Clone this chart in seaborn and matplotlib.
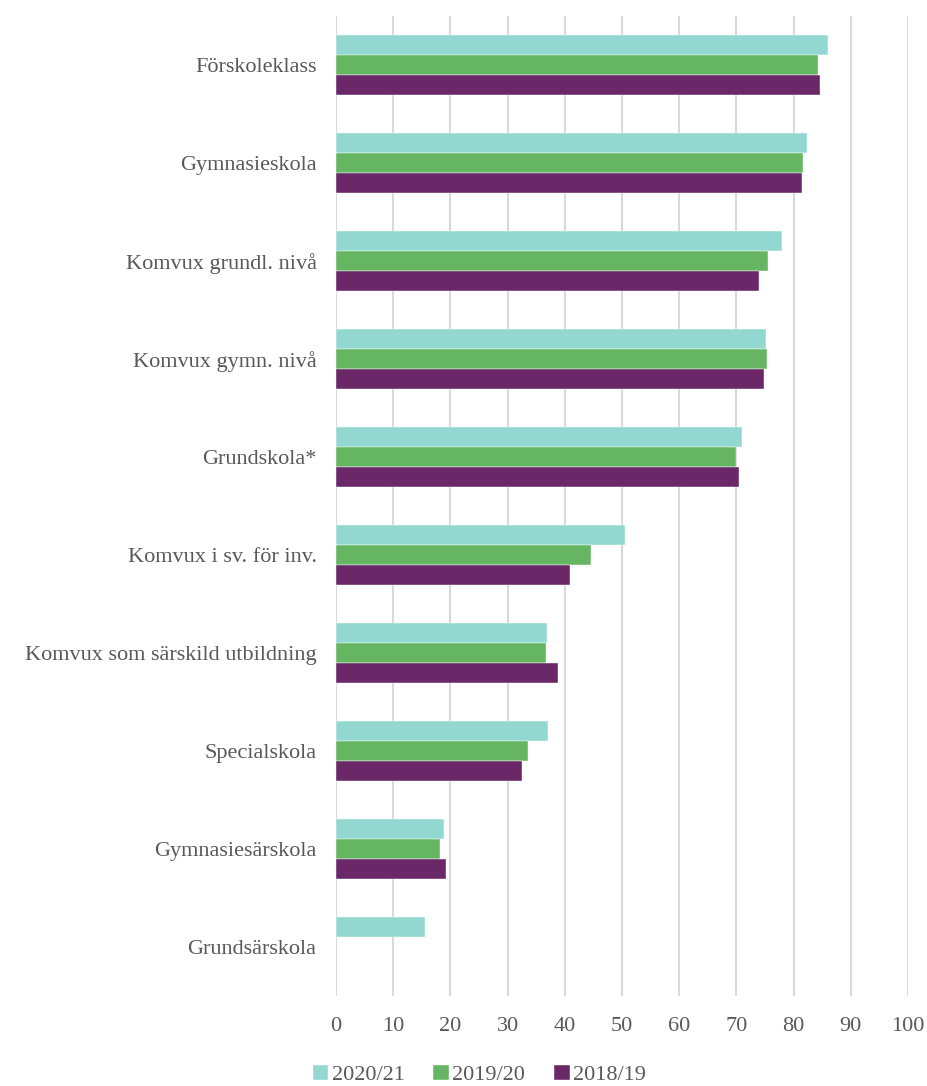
import matplotlib
matplotlib.use("Agg")
import matplotlib.pyplot as plt
import numpy as np
import pandas as pd
import seaborn as sns

# Kategorier (skolformer), uppifrån och ned
kategorier = ['Förskoleklass', 'Gymnasieskola', 'Komvux grundl. nivå', 'Komvux gymn. nivå',
              'Grundskola*', 'Komvux i sv. för inv.', 'Komvux som särskild utbildning',
              'Specialskola', 'Gymnasiesärskola', 'Grundsärskola']

# Värden per läsår
v2020_21 = [86.0, 82.3, 78.0, 75.2, 71.0, 50.5, 36.8, 37.1, 18.8, 15.6]
v2019_20 = [84.3, 81.6, 75.6, 75.3, 70.0, 44.5, 36.7, 33.6, 18.1, np.nan]
v2018_19 = [84.7, 81.4, 74.0, 74.9, 70.5, 40.9, 38.8, 32.5, 19.2, np.nan]

serier = ['2020/21', '2019/20', '2018/19']
farger = ['#92D8D1', '#66B562', '#6A2869']

df = pd.DataFrame({'kategori': kategorier, '2020/21': v2020_21,
                   '2019/20': v2019_20, '2018/19': v2018_19})
df_long = df.melt(id_vars='kategori', var_name='år', value_name='värde')

sns.set_style('white')
plt.rcParams['font.family'] = ['Liberation Serif', 'DejaVu Serif']

fig, ax = plt.subplots(figsize=(9.27, 10.86), dpi=100)
fig.subplots_adjust(left=0.3625, right=0.9795, top=0.9853, bottom=0.0829)

sns.barplot(data=df_long, y='kategori', x='värde', hue='år', order=kategorier,
            hue_order=serier, palette=farger, orient='h', width=0.62,
            saturation=1, edgecolor='white', linewidth=0.3, ax=ax)

ax.set_xlim(0, 100)
ax.set_xticks(range(0, 101, 10))
ax.grid(axis='x', color='#d9d9d9', linewidth=1.5)
ax.set_axisbelow(True)
for s in ax.spines.values():
    s.set_visible(False)

ax.set_xlabel('')
ax.set_ylabel('')
ax.tick_params(axis='both', length=0, labelcolor='#595959', labelsize=16)
ax.tick_params(axis='y', pad=14)
ax.tick_params(axis='x', pad=15)

handles, labels = ax.get_legend_handles_labels()
ax.get_legend().remove()
fig.legend(handles, labels, loc='center', bbox_to_anchor=(0.517, 0.01),
           ncol=3, frameon=False, fontsize=16, labelcolor='#595959',
           handlelength=0.7, handleheight=0.7, handletextpad=0.15, columnspacing=1.3)

fig.savefig('out.png', dpi=100)
